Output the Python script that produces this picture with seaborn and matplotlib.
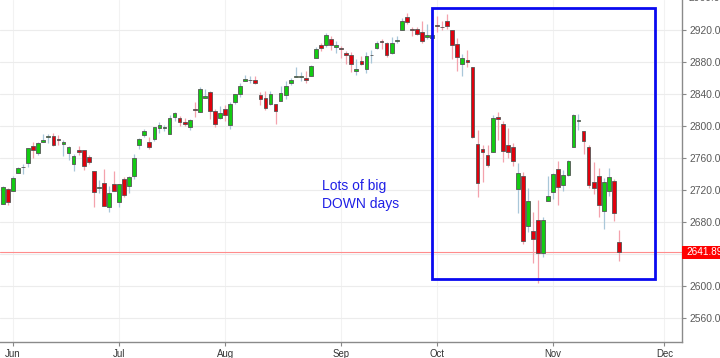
import matplotlib
matplotlib.use('Agg')
import matplotlib.pyplot as plt
import matplotlib.transforms as mtransforms
from matplotlib.patches import Rectangle
import numpy as np
import pandas as pd
import seaborn as sns

# ---------------- data (daily OHLC) ----------------
dates = [
    '2018-05-30', '2018-05-31',
    '2018-06-01', '2018-06-04', '2018-06-05', '2018-06-06', '2018-06-07', '2018-06-08',
    '2018-06-11', '2018-06-12', '2018-06-13', '2018-06-14', '2018-06-15', '2018-06-18',
    '2018-06-19', '2018-06-20', '2018-06-21', '2018-06-22', '2018-06-25', '2018-06-26',
    '2018-06-27', '2018-06-28', '2018-06-29',
    '2018-07-02', '2018-07-03', '2018-07-05', '2018-07-06', '2018-07-09', '2018-07-10',
    '2018-07-11', '2018-07-12', '2018-07-13', '2018-07-16', '2018-07-17', '2018-07-18',
    '2018-07-19', '2018-07-20', '2018-07-23', '2018-07-24', '2018-07-25', '2018-07-26',
    '2018-07-27', '2018-07-30', '2018-07-31',
    '2018-08-01', '2018-08-02', '2018-08-03', '2018-08-06', '2018-08-07', '2018-08-08',
    '2018-08-09', '2018-08-10', '2018-08-13', '2018-08-14', '2018-08-15', '2018-08-16',
    '2018-08-17', '2018-08-20', '2018-08-21', '2018-08-22', '2018-08-23', '2018-08-24',
    '2018-08-27', '2018-08-28', '2018-08-29', '2018-08-30', '2018-08-31',
    '2018-09-04', '2018-09-05', '2018-09-06', '2018-09-07', '2018-09-10', '2018-09-11',
    '2018-09-12', '2018-09-13', '2018-09-14', '2018-09-17', '2018-09-18', '2018-09-19',
    '2018-09-20', '2018-09-21', '2018-09-24', '2018-09-25', '2018-09-26', '2018-09-27',
    '2018-09-28',
    '2018-10-01', '2018-10-02', '2018-10-03', '2018-10-04', '2018-10-05', '2018-10-08',
    '2018-10-09', '2018-10-10', '2018-10-11', '2018-10-12', '2018-10-15', '2018-10-16',
    '2018-10-17', '2018-10-18', '2018-10-19', '2018-10-22', '2018-10-23', '2018-10-24',
    '2018-10-25', '2018-10-26', '2018-10-29', '2018-10-30', '2018-10-31',
    '2018-11-01', '2018-11-02', '2018-11-05', '2018-11-06', '2018-11-07', '2018-11-08',
    '2018-11-09', '2018-11-12', '2018-11-13', '2018-11-14', '2018-11-15', '2018-11-16',
    '2018-11-19', '2018-11-20',
]
opens = [
    2702.43, 2720.98,
    2718.70, 2741.67, 2748.46, 2753.25, 2774.84, 2765.84, 2780.18, 2785.60, 2787.94,
    2783.21, 2777.78, 2765.79, 2752.01, 2769.73, 2769.28, 2760.79, 2742.94, 2722.12,
    2728.45, 2698.69, 2727.13,
    2704.95, 2733.27, 2724.19, 2737.68, 2775.62, 2788.56, 2779.82, 2783.14, 2796.93,
    2797.36, 2789.34, 2811.35, 2809.37, 2804.55, 2799.17, 2820.68, 2817.73, 2835.49,
    2842.35, 2819.00, 2809.73,
    2821.17, 2800.48, 2829.62, 2840.29, 2855.92, 2856.79, 2857.19, 2838.90, 2835.46,
    2827.88, 2827.95, 2831.44, 2838.32, 2853.93, 2861.51, 2860.99, 2860.29, 2862.35,
    2884.69, 2901.45, 2900.62, 2908.94, 2898.37,
    2896.96, 2891.59, 2888.64, 2868.26, 2881.39, 2871.57, 2888.29, 2896.85, 2906.38,
    2903.83, 2890.74, 2906.60, 2919.73, 2936.76, 2921.83, 2921.75, 2916.98, 2911.65,
    2910.03,
    2926.29, 2923.80, 2931.69, 2919.35, 2902.54, 2877.53, 2882.51, 2873.90, 2776.87,
    2770.54, 2763.83, 2767.05, 2811.67, 2802.00, 2775.66, 2773.94, 2721.03, 2737.87,
    2674.88, 2667.86, 2682.65, 2640.68, 2705.60,
    2717.58, 2745.45, 2726.37, 2738.40, 2774.13, 2806.38, 2794.10, 2773.93, 2730.05,
    2737.90, 2693.52, 2718.54, 2730.74, 2654.60,
]
highs = [
    2725.34, 2722.50,
    2736.93, 2749.16, 2752.61, 2772.39, 2779.90, 2779.39, 2790.21, 2789.80, 2791.47,
    2789.06, 2782.81, 2774.99, 2765.05, 2774.86, 2769.28, 2764.17, 2742.94, 2732.91,
    2746.09, 2724.34, 2743.26,
    2727.26, 2736.58, 2737.83, 2764.41, 2784.65, 2795.58, 2785.91, 2799.22, 2804.53,
    2801.19, 2814.19, 2816.76, 2812.05, 2809.70, 2808.61, 2829.99, 2848.03, 2845.57,
    2843.17, 2821.74, 2824.46,
    2825.83, 2829.91, 2840.38, 2853.29, 2863.43, 2862.44, 2862.48, 2842.20, 2843.40,
    2843.11, 2827.95, 2850.49, 2855.63, 2859.76, 2873.23, 2867.54, 2868.78, 2876.16,
    2898.25, 2903.77, 2916.50, 2912.46, 2906.32,
    2900.18, 2894.21, 2892.05, 2883.81, 2886.93, 2892.52, 2894.65, 2906.76, 2908.30,
    2904.65, 2911.17, 2912.36, 2934.80, 2940.91, 2923.79, 2923.95, 2931.15, 2927.22,
    2920.53,
    2937.06, 2931.42, 2939.86, 2919.78, 2909.64, 2889.45, 2894.83, 2874.02, 2795.14,
    2775.77, 2775.99, 2813.46, 2816.94, 2806.04, 2797.77, 2778.94, 2753.59, 2742.59,
    2722.70, 2692.38, 2706.85, 2685.43, 2736.69,
    2741.67, 2756.55, 2744.27, 2756.82, 2815.15, 2814.75, 2794.10, 2775.99, 2754.60,
    2746.80, 2735.38, 2746.75, 2733.16, 2669.44,
]
lows = [
    2702.43, 2700.68,
    2718.70, 2740.54, 2739.51, 2748.46, 2760.16, 2763.59, 2780.17, 2778.78, 2774.65,
    2776.52, 2761.73, 2757.12, 2743.19, 2763.91, 2744.39, 2752.68, 2698.67, 2715.60,
    2699.38, 2691.99, 2718.03,
    2698.95, 2711.16, 2716.02, 2733.52, 2770.73, 2786.24, 2770.77, 2781.53, 2791.69,
    2793.39, 2789.24, 2805.89, 2799.77, 2800.01, 2795.14, 2811.12, 2817.73, 2835.26,
    2808.34, 2798.11, 2808.06,
    2805.85, 2796.34, 2827.37, 2835.98, 2855.92, 2853.09, 2851.98, 2825.81, 2819.88,
    2826.58, 2802.49, 2831.44, 2833.73, 2850.62, 2861.32, 2856.05, 2854.03, 2862.35,
    2884.69, 2893.50, 2898.40, 2895.22, 2891.73,
    2885.13, 2876.92, 2867.29, 2864.12, 2875.94, 2866.78, 2879.20, 2896.39, 2895.77,
    2886.16, 2890.43, 2903.82, 2919.73, 2927.11, 2912.63, 2913.70, 2903.28, 2909.27,
    2907.50,
    2917.91, 2919.37, 2921.36, 2883.92, 2869.29, 2862.08, 2874.27, 2784.86, 2710.51,
    2729.44, 2749.03, 2766.91, 2781.81, 2755.18, 2760.27, 2749.22, 2691.43, 2651.89,
    2667.84, 2628.16, 2603.54, 2635.34, 2705.60,
    2708.85, 2700.44, 2717.94, 2737.08, 2774.13, 2794.99, 2764.24, 2722.00, 2714.98,
    2685.75, 2670.75, 2712.16, 2681.09, 2631.52,
]
closes = [
    2724.01, 2705.27,
    2734.62, 2746.87, 2748.80, 2772.35, 2770.37, 2779.03, 2782.00, 2786.85, 2775.63,
    2782.49, 2779.66, 2773.75, 2762.59, 2767.32, 2749.76, 2754.88, 2717.07, 2723.06,
    2699.63, 2716.31, 2718.37,
    2726.71, 2713.22, 2736.61, 2759.82, 2784.17, 2793.84, 2774.02, 2798.29, 2801.31,
    2798.43, 2809.55, 2815.62, 2804.49, 2801.83, 2806.98, 2820.40, 2846.07, 2837.44,
    2818.82, 2802.60, 2816.29,
    2813.36, 2827.22, 2840.35, 2850.40, 2858.45, 2857.70, 2853.58, 2833.28, 2821.93,
    2839.96, 2818.37, 2840.69, 2850.13, 2857.05, 2862.96, 2861.82, 2856.98, 2874.69,
    2896.74, 2897.52, 2914.04, 2901.13, 2901.52,
    2896.72, 2888.60, 2878.05, 2871.68, 2877.13, 2887.89, 2888.92, 2904.18, 2904.98,
    2888.80, 2904.31, 2907.95, 2930.75, 2929.67, 2919.37, 2915.56, 2905.97, 2914.00,
    2913.98,
    2924.59, 2923.43, 2925.51, 2901.61, 2885.57, 2884.43, 2880.34, 2785.68, 2728.37,
    2767.13, 2750.79, 2809.92, 2809.21, 2768.78, 2767.78, 2755.88, 2740.69, 2656.10,
    2705.57, 2658.69, 2641.25, 2682.63, 2711.74,
    2740.37, 2723.06, 2738.31, 2755.45, 2813.89, 2806.83, 2781.01, 2726.22, 2722.18,
    2701.58, 2730.20, 2736.27, 2690.73, 2641.89,
]

month_labels = ['Jun', 'Jul', 'Aug', 'Sep', 'Oct', 'Nov', 'Dec']
y_ticks = [2560, 2600, 2640, 2680, 2720, 2760, 2800, 2840, 2880, 2920]
top_tick = 2960
last_price = 2641.89
note_text = 'Lots of big\nDOWN days'

# annotation box (in bar-index / price units)
box_x0, box_x1 = 85.07, 129.06
box_y0, box_y1 = 2607.8, 2947.2
note_x, note_y = 63.2, 2713.5

# ---------------- style ----------------
sns.set_theme(style='white')
plt.rcParams['font.family'] = ['Liberation Sans', 'DejaVu Sans']

df = pd.DataFrame({'date': pd.to_datetime(dates), 'open': opens, 'high': highs,
                   'low': lows, 'close': closes})
df['i'] = np.arange(len(df))
df['up'] = df['close'] >= df['open']

# month tick positions on a trading-day axis (future extended with weekdays)
future = pd.bdate_range(df['date'].iloc[-1] + pd.Timedelta(days=1), '2018-12-31')
all_days = pd.Series(list(df['date']) + list(future))
pos_by_month = {}
for k, d in enumerate(all_days):
    key = (d.year, d.month)
    if key not in pos_by_month and d.month != 5:
        pos_by_month[key] = k
tick_pos = [pos_by_month[k] for k in sorted(pos_by_month)][:len(month_labels)]

fig = plt.figure(figsize=(7.2, 3.58), dpi=100)
ax = fig.add_axes([0, 1 - 342 / 358, 682 / 720, 342 / 358])

green = '#12cc12'
red = '#e0000c'
green_wick = '#a9c7d9'
red_wick = '#f4a2ad'

up = df[df['up']]
dn = df[~df['up']]
ax.vlines(up['i'], up['low'], up['high'], color=green_wick, lw=0.9, zorder=2)
ax.vlines(dn['i'], dn['low'], dn['high'], color=red_wick, lw=0.9, zorder=2)
ax.bar(up['i'], (up['close'] - up['open']).clip(lower=0.6), bottom=up['open'],
       width=0.74, color=green, edgecolor='#555555', linewidth=0.6, zorder=3)
ax.bar(dn['i'], (dn['close'] - dn['open']).clip(upper=-0.6), bottom=dn['open'],
       width=0.74, color=red, edgecolor='#555555', linewidth=0.6, zorder=3)

ax.axhline(last_price, color='#ff8c8c', lw=0.8, zorder=1)

ax.add_patch(Rectangle((box_x0, box_y0), box_x1 - box_x0, box_y1 - box_y0,
                       fill=False, ec='#0a0af0', lw=2.0, zorder=5))
ax.text(note_x, note_y, note_text, color='#1f1fe6', fontsize=10.0,
        ha='left', va='center', linespacing=1.3, zorder=5)

ax.set_xlim(-0.574, 134.5)
ax.set_ylim(2529.6, 2957.5)

ax.set_xticks(tick_pos)
ax.set_xticklabels(month_labels)
ax.yaxis.tick_right()
ax.set_yticks(y_ticks)
ax.set_yticklabels([f'{v:.2f}' for v in y_ticks])

ax.tick_params(axis='y', right=True, left=False, length=3, width=0.8, pad=2.5,
               labelsize=7.4, labelcolor='#5a5a5a', color='#888888')
ax.tick_params(axis='x', bottom=True, length=3, width=0.8, pad=2,
               labelsize=6.9, labelcolor='#333333', color='#888888')

ax.grid(True, axis='y', color='#ececec', lw=0.8, zorder=0)
ax.grid(True, axis='x', color='#f2f2f2', lw=0.8, zorder=0)
for side in ['left', 'top']:
    ax.spines[side].set_visible(False)
for side in ['right', 'bottom']:
    ax.spines[side].set_visible(True)
    ax.spines[side].set_color('#8a8a8a')
    ax.spines[side].set_linewidth(1.0)

trans = mtransforms.blended_transform_factory(ax.transAxes, ax.transData)
# partly visible top tick label
ax.text(1 + 6.3 / 682, top_tick, f'{top_tick:.2f}', transform=trans, ha='left',
        va='center', fontsize=7.4, color='#5a5a5a', clip_on=False)
ax.plot([1, 1 + 3 / 682], [top_tick, top_tick], transform=trans, color='#888888',
        lw=0.8, clip_on=False)

# last price tag
half_h = 6.3 / 0.7992
ax.add_patch(Rectangle((1.0, last_price - half_h), 0.08, 2 * half_h, transform=trans,
                       fc='#ff0000', ec='none', clip_on=False, zorder=6))
ax.text(1 + 4.0 / 682, last_price, f'{last_price:.2f}', transform=trans, ha='left',
        va='center', fontsize=7.2, color='white', clip_on=False, zorder=7)

fig.savefig('out.png', dpi=100)
